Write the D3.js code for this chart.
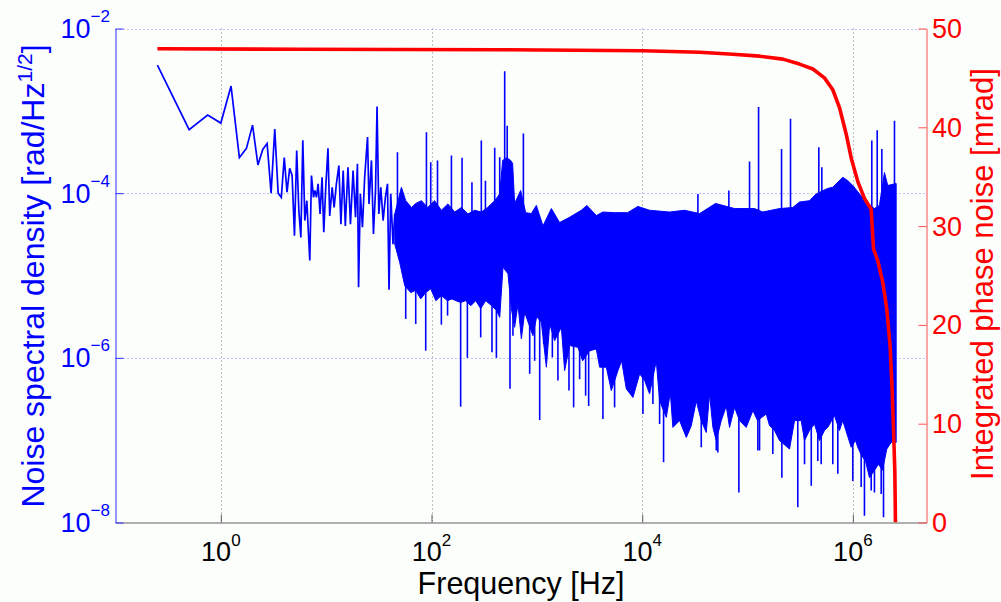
<!DOCTYPE html>
<html><head><meta charset="utf-8">
<script src="https://cdn.jsdelivr.net/npm/d3@7"></script>
<style>
html,body{margin:0;padding:0;background:#fcfefc;}
svg{display:block;font-family:"Liberation Sans",Arial,sans-serif;}
</style></head><body>
<svg id="c" width="1001" height="602"></svg>
<script>
// ---------- axis definitions ----------
const xLimits = [0.1, 5e6];
const yLimits = [1e-8, 1e-2];
const rLimits = [0, 50];
const xTicks = [1, 100, 1e4, 1e6];
const xTickExp = ["0", "2", "4", "6"];
const yTicks = [1e-8, 1e-6, 1e-4, 1e-2];
const yTickExp = ["\u22128", "\u22126", "\u22124", "\u22122"];
const rTicks = [0, 10, 20, 30, 40, 50];

// ---------- blue: noise spectral density (sparse low-frequency part) [Hz, rad/Hz^1/2] ----------
const psdLine = [
 [0.25,3.6e-3],[0.5,5.9e-4],[0.75,8.9e-4],[1.0,7.1e-4],[1.25,2.0e-3],[1.5,2.7e-4],[1.75,3.5e-4],
 [2.0,6.7e-4],[2.25,2.2e-4],[2.5,3.4e-4],[2.75,4.0e-4],[3.0,1.0e-4],[3.25,6.0e-4],[3.5,1.0e-4],
 [3.75,8.9e-5],[4.0,2.7e-4],[4.25,1.03e-4],[4.5,2.0e-4],[4.75,1.64e-4],[5.0,3.05e-5],[5.25,3.3e-4],
 [5.5,6.2e-5],[5.75,2.9e-5],[6.0,4.4e-4],[6.27,4.65e-5],[6.55,8.1e-5],[6.99,1.52e-5],[7.25,1.64e-4],
 [7.58,8.9e-5],[7.80,1.08e-4],[8.09,8.9e-5],[8.38,1.30e-4],[8.75,5.6e-5],[9.14,1.56e-4],[9.49,3.35e-5],
 [9.91,1.18e-4],[10.4,3.5e-4],[10.8,5.3e-5],[11.4,1.18e-4],[11.9,6.7e-5],[12.5,1.30e-4],[13.2,2.16e-4],
 [13.8,4.2e-5],[14.5,1.88e-4],[15.2,4.0e-5],[16.1,2.06e-4],[17.0,4.2e-5],[18.0,1.88e-4],[19.0,5.1e-5],
 [19.8,2.27e-4],[20.3,7.2e-6],[21.1,9.8e-5],[22.1,3.85e-5],[23.2,1.56e-4],[24.7,4.8e-4],[25.5,7.4e-5],
 [26.9,2.5e-4],[28.1,3.2e-5],[29.4,1.08e-4],[30.4,1.13e-3],[31.6,5.6e-5],[33.0,1.18e-4],[34.7,4.65e-5],
 [36.5,8.9e-5],[38.2,1.30e-4],[39.5,6.7e-6],[41.0,9.8e-5],[43.1,2.4e-5],[44.8,5.6e-5]
];

// ---------- blue: dense part, upper envelope [Hz, rad/Hz^1/2] ----------
const bandTop = [
 [44.8,5.6e-5],[51.8,1.18e-4],[56.9,8.1e-5],[64.5,6.7e-5],[70.8,7.5e-5],[80.2,8.1e-5],[92,6.7e-5],
 [107,8.1e-5],[124,6.2e-5],[143,7.4e-5],[166,5.9e-5],[192,6.7e-5],[222,5.6e-5],[257,6.2e-5],
 [297,5.9e-5],[341,6.7e-5],[398,8.1e-5],[444,9.8e-5],[474,2.5e-4],[517,2.7e-4],[564,2.5e-4],
 [589,2.3e-4],[615,7.5e-5],[702,1.08e-4],[783,5.8e-5],[887,5.65e-5],[989,7.1e-5],[1143,4.0e-5],
 [1373,6.5e-5],[1644,4.4e-5],[2047,5.1e-5],[2643,6.2e-5],[2986,7.1e-5],[3668,5.35e-5],[4238,5.9e-5],
 [5470,5.8e-5],[7266,5.8e-5],[9101,6.9e-5],[11750,6.2e-5],[18200,5.9e-5],[25240,6.2e-5],[35070,5.65e-5],
 [49690,7.5e-5],[75340,6.5e-5],[116500,6.5e-5],[139700,5.9e-5],[201200,6.5e-5],[269000,6.7e-5],
 [311200,7.8e-5],[387300,8.1e-5],[448700,9.8e-5],[574500,1.14e-4],[644700,1.18e-4],[802000,1.56e-4],
 [895000,1.42e-4],[998000,1.24e-4],[1156000,9.8e-5],[1337000,7.8e-5],[1603000,6.5e-5],[1787000,7.1e-5],
 [1995000,1.78e-4],[2143000,1.24e-4],[2576000,1.31e-4]
];

// ---------- blue: dense part, lower envelope [Hz, rad/Hz^1/2] ----------
const bandBottom = [
 [44.8,2.4e-5],[49.9,1.44e-5],[55.7,7.5e-6],[63.5,6.2e-6],[70.8,6.6e-6],[79.0,5.2e-6],[88.1,6.2e-6],
 [98.2,6.9e-6],[110,4.95e-6],[124,5.7e-6],[142,4.95e-6],[156,5.2e-6],[170,4.95e-6],[189,4.7e-6],
 [211,4.95e-6],[236,4.3e-6],[263,4.95e-6],[293,3.96e-6],[327,4.95e-6],[372,4.3e-6],[415,3.75e-6],
 [444,3.1e-6],[477,1.26e-5],[532,1.05e-5],[573,3.96e-6],[615,2.35e-6],[662,4.5e-6],[713,1.70e-6],
 [766,3.57e-6],[918,1.86e-6],[996,3.17e-6],[1104,2.7e-6],[1231,7.7e-7],[1324,2.58e-6],[1476,1.62e-6],
 [1709,2.35e-6],[1836,7.0e-7],[2047,1.41e-6],[2455,1.34e-6],[2721,9.2e-7],[3170,1.22e-6],[3670,1.28e-6],
 [3945,7.7e-7],[4566,7.7e-7],[5093,4.0e-7],[5886,7.0e-7],[6380,9.2e-7],[7066,4.2e-7],[8166,3.3e-7],
 [9462,6.4e-7],[10550,5.3e-7],[11750,3.65e-7],[13610,9.2e-7],[14630,3.0e-7],[16940,1.89e-7],
 [18490,3.8e-7],[19560,1.43e-7],[22640,1.73e-7],[26230,1.08e-7],[29250,1.50e-7],[32610,3.0e-7],
 [36370,1.73e-7],[40560,1.24e-7],[43620,3.65e-7],[46900,1.43e-7],[50480,9.9e-8],[56330,1.73e-7],
 [62820,2.6e-7],[67480,1.43e-7],[75340,2.5e-7],[83950,1.73e-7],[97200,1.43e-7],[112500,2.29e-7],
 [124500,1.73e-7],[150600,2.08e-7],[161900,1.50e-7],[180400,1.31e-7],[201200,9.9e-8],[250500,7.8e-8],
 [279400,1.73e-7],[323300,1.73e-7],[347600,9.9e-8],[387300,1.31e-7],[432400,1.57e-7],[482000,9.9e-8],
 [537500,1.31e-7],[577700,1.43e-7],[668400,1.99e-7],[746400,1.31e-7],[802000,1.73e-7],[963800,8.2e-8],
 [1059000,9.9e-8],[1114000,8.2e-8],[1208000,6.5e-8],[1318000,5.6e-8],[1438000,3.5e-8],[1603000,4.3e-8],
 [1750000,5.1e-8],[1910000,4.3e-8],[2099000,7.8e-8],[2311000,9.4e-8],[2576000,9.4e-8]
];

// ---------- blue: narrow spikes above / below the dense part [Hz, rad/Hz^1/2] ----------
const spikesUp = [
 [47.5,3.14e-4],[89.5,5.5e-4],[98.3,2.38e-4],[114,2.49e-4],[154.5,2.86e-4],[195,2.69e-4],[242,1.36e-4],
 [297,4.36e-4],[325,1.42e-4],[398,3.55e-4],[444,2.73e-4],[495,3.03e-3],[523,6.6e-4],[745,5.3e-4],
 [33800,9.8e-5],[66500,1.08e-4],[104500,2.42e-4],[127300,1.11e-3],[210300,3.45e-4],[255900,8.0e-4],
 [475000,3.61e-4],[507500,2.07e-4],[1513000,4.36e-4],[1702000,5.8e-4],[1884000,3.45e-4],[2483000,7.6e-4]
];
const spikesDown = [
 [56.9,2.97e-6],[70.8,2.58e-6],[88.1,1.22e-6],[124,2.53e-6],[142,3.26e-6],[189,2.55e-7],[219,1.0e-6],
 [293,1.77e-6],[375,1.17e-6],[413,1.0e-6],[556,4.2e-7],[593,1.86e-6],[855,6.4e-7],[953,9.2e-7],
 [1064,1.76e-7],[1161,1.48e-6],[1403,1.01e-6],[1585,5.3e-7],[2018,4.0e-7],[2234,2.5e-7],[2547,5.5e-7],
 [2904,3.47e-7],[3103,2.6e-7],[4238,1.81e-7],[5470,2.5e-7],[10160,2.08e-7],[12640,2.75e-7],
 [14630,1.57e-7],[15960,5.4e-8],[36370,8.2e-8],[50480,7.5e-8],[52270,7.1e-8],[82750,2.32e-8],
 [125300,7.5e-8],[130000,7.5e-8],[173800,6.8e-8],[211800,3.5e-8],[300000,1.53e-8],[347600,5.1e-8],
 [402700,2.8e-8],[464500,5.6e-8],[500300,5.1e-8],[644700,5.1e-8],[719600,3.9e-8],[998000,3.2e-8],
 [1199000,2.7e-8],[1288000,1.21e-8],[1493000,2.44e-8],[1603000,2.32e-8],[1857000,2.22e-8],[1954000,1.16e-8]
];
const spikeBase = 3e-5;

// ---------- red: integrated phase noise [Hz, mrad] ----------
const integrated = [
 [0.25,47.95],[5.6,47.9],[444,47.85],[10160,47.75],[35070,47.6],[72600,47.4],[130000,47.2],
 [216300,46.9],[311200,46.4],[416800,45.9],[537500,45.0],[644700,43.8],[746400,42.0],[864600,39.3],
 [963800,36.9],[1114000,34.5],[1288000,32.8],[1493000,31.7],[1570000,27.7],[1723000,26.5],
 [1923000,24.3],[2099000,21.6],[2259000,17.8],[2361000,13.4],[2445000,8.6],[2502000,5.2],[2537000,0]
];

// ---------- drawing ----------
const svg = d3.select("#c");
const m = {l:115.5, r:926.5, t:28.5, b:522.5};
const x = d3.scaleLog().domain(xLimits).range([m.l, m.r]);
const y = d3.scaleLog().domain(yLimits).range([m.b, m.t]);
const yr = d3.scaleLinear().domain(rLimits).range([m.b, m.t]);
const BLUE = "#0000ff", RED = "#ff0000";

svg.append("defs").append("clipPath").attr("id","clip")
  .append("rect").attr("x",m.l).attr("y",m.t).attr("width",m.r-m.l).attr("height",m.b-m.t);

// grid
const grid = svg.append("g");
grid.selectAll("line.v").data(xTicks).join("line")
  .attr("x1",d=>Math.round(x(d))+0.5).attr("x2",d=>Math.round(x(d))+0.5)
  .attr("y1",m.t).attr("y2",m.b)
  .attr("stroke","#808080").attr("stroke-width",1).attr("stroke-dasharray","1,3");
grid.selectAll("line.h").data(yTicks.filter(d=>d>yLimits[0])).join("line")
  .attr("x1",m.l).attr("x2",m.r)
  .attr("y1",d=>Math.round(y(d))+0.5).attr("y2",d=>Math.round(y(d))+0.5)
  .attr("stroke","#8080ff").attr("stroke-width",1).attr("stroke-dasharray","1,3");

const plot = svg.append("g").attr("clip-path","url(#clip)");
const line = d3.line().x(d=>x(d[0])).y(d=>y(d[1]));

// dense band
plot.append("path")
  .attr("d", line(bandTop.concat(bandBottom.slice().reverse())) + "Z")
  .attr("fill",BLUE).attr("stroke",BLUE).attr("stroke-width",1).attr("stroke-linejoin","miter");
// spikes
plot.selectAll("line.su").data(spikesUp.concat(spikesDown)).join("line")
  .attr("x1",d=>x(d[0])).attr("x2",d=>x(d[0]))
  .attr("y1",y(spikeBase)).attr("y2",d=>y(d[1]))
  .attr("stroke",BLUE).attr("stroke-width",1.6);
// sparse line
plot.append("path").attr("d",line(psdLine))
  .attr("fill","none").attr("stroke",BLUE).attr("stroke-width",1.7);

// red curve
const rline = d3.line().x(d=>x(d[0])).y(d=>yr(d[1]));
plot.append("path").attr("d",rline(integrated))
  .attr("fill","none").attr("stroke",RED).attr("stroke-width",3.6).attr("stroke-linejoin","round");

// axes
const ax = svg.append("g").attr("transform",`translate(0,${m.b})`)
  .call(d3.axisBottom(x).tickValues(xTicks).tickSizeInner(-8).tickSizeOuter(0).tickFormat(""));
ax.selectAll("path,line").attr("stroke","#606060");
const al = svg.append("g").attr("transform",`translate(${m.l},0)`)
  .call(d3.axisLeft(y).tickValues(yTicks).tickSizeInner(-8).tickSizeOuter(0).tickFormat(""));
al.selectAll("path,line").attr("stroke","#3030ff");
const ar = svg.append("g").attr("transform",`translate(${m.r},0)`)
  .call(d3.axisRight(yr).tickValues(rTicks).tickSizeInner(-8).tickSizeOuter(0).tickFormat(""));
ar.selectAll("path,line").attr("stroke","#ff5050");

// tick labels
const xl = svg.append("g").attr("font-size",27).attr("fill","#000").attr("text-anchor","middle");
xTicks.forEach((t,i)=>{
  const tx = xl.append("text").attr("x",x(t)).attr("y",560.5);
  tx.append("tspan").text("10");
  tx.append("tspan").attr("dy",-15).attr("font-size",17).text(xTickExp[i]);
});
const yl = svg.append("g").attr("font-size",27).attr("fill",BLUE).attr("text-anchor","end");
yTicks.forEach((t,i)=>{
  const tx = yl.append("text").attr("x",110).attr("y",y(t)+9.5);
  tx.append("tspan").text("10");
  tx.append("tspan").attr("dy",-16).attr("font-size",17).text(yTickExp[i]);
});
svg.append("g").attr("font-size",27).attr("fill",RED).attr("text-anchor","start")
  .selectAll("text").data(rTicks).join("text")
  .attr("x",932).attr("y",d=>yr(d)+9.5).text(d=>d);

// axis titles
svg.append("text").attr("x",521).attr("y",594).attr("text-anchor","middle")
  .attr("font-size",30.5).attr("fill","#000").text("Frequency [Hz]");
const lt = svg.append("text").attr("transform","translate(44,276) rotate(-90)")
  .attr("text-anchor","middle").attr("font-size",32).attr("fill",BLUE);
lt.append("tspan").text("Noise spectral density [rad/Hz");
lt.append("tspan").attr("dy",-12).attr("font-size",21).text("1/2");
lt.append("tspan").attr("dy",12).text("]");
svg.append("text").attr("transform","translate(993,274) rotate(-90)")
  .attr("text-anchor","middle").attr("font-size",31).attr("fill",RED)
  .text("Integrated phase noise [mrad]");
</script>
</body></html>
